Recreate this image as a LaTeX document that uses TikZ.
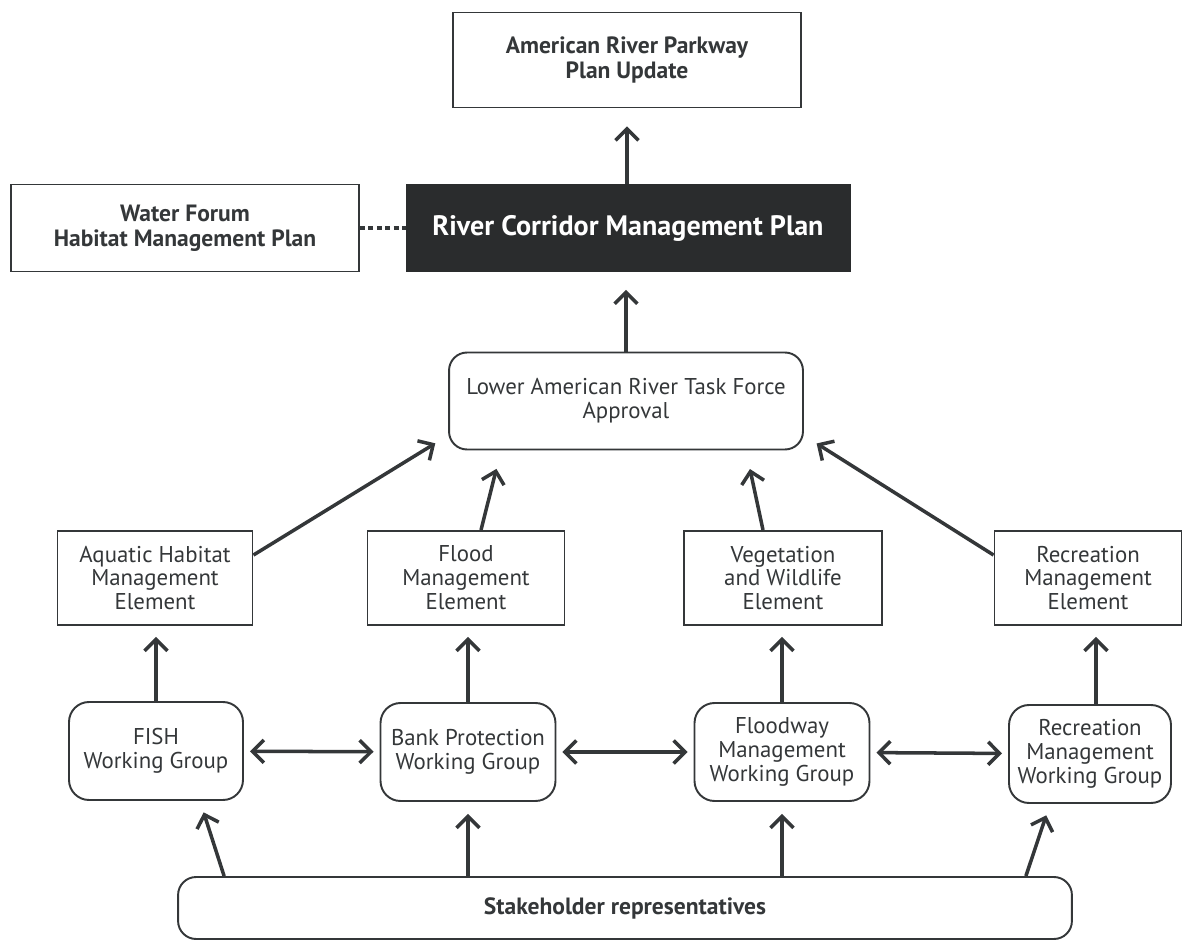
\documentclass[tikz,border=0pt]{standalone}
\usepackage{fontspec}
\setmainfont{PT Sans}
\usetikzlibrary{arrows.meta,positioning}
\definecolor{ink}{HTML}{343739}
\definecolor{corefill}{HTML}{2A2C2D}

\begin{document}
\begin{tikzpicture}[
  x=0.02cm, y=-0.02cm,
  planbox/.style={draw=ink, line width=1.1pt, align=center, text=ink,
                  font=\fontsize{13.4}{14.5}\selectfont\bfseries},
  corebox/.style={draw=corefill, fill=corefill, text=white,
                  minimum width=8.88cm, minimum height=1.74cm,
                  font=\fontsize{16}{18}\selectfont\bfseries},
  elembox/.style={draw=ink, line width=1.1pt, align=center, text=ink,
                  minimum height=1.88cm, font=\fontsize{13}{13.6}\selectfont},
  groupbox/.style={draw=ink, line width=1.1pt, rounded corners=0.4cm, align=center,
                   text=ink, minimum height=1.96cm, font=\fontsize{13}{13.6}\selectfont},
  arr/.style={-{Straight Barb[length=6.5pt,width=13pt]}, line width=2pt, draw=ink},
  dblarr/.style={{Straight Barb[length=6.5pt,width=13pt]}-{Straight Barb[length=6.5pt,width=13pt]},
                 line width=2pt, draw=ink, shorten <=0.12cm, shorten >=0.12cm}
]
\useasboundingbox (0,0) rectangle (1183,942);

% plans
\node[planbox, minimum width=6.96cm, minimum height=1.9cm] (upd) at (627,60)
  {American River Parkway\\Plan Update};
\node[corebox] (rcmp) at (628,228) {River Corridor Management Plan};
\node[planbox, minimum width=6.96cm, minimum height=1.74cm] (wf) at (185,228)
  {Water Forum\\Habitat Management Plan};
\node[groupbox, rounded corners=0.36cm, minimum width=7.08cm, minimum height=1.94cm] (task) at (626,401)
  {Lower American River Task Force\\Approval};

% elements
\node[elembox, minimum width=3.9cm] (aqua) at (155,578) {Aquatic Habitat\\Management\\Element};
\node[elembox, minimum width=3.94cm] (flood) at (466,578) {Flood\\Management\\Element};
\node[elembox, minimum width=3.96cm] (veg) at (783,578) {Vegetation\\and Wildlife\\Element};
\node[elembox, minimum width=3.74cm] (rece) at (1088,578) {Recreation\\Management\\Element};

% working groups
\node[groupbox, minimum width=3.48cm] (fish) at (156,751) {FISH\\Working Group};
\node[groupbox, minimum width=3.5cm] (bank) at (468,752) {Bank Protection\\Working Group};
\node[groupbox, minimum width=3.5cm] (fway) at (782,752) {Floodway\\Management\\Working Group};
\node[groupbox, minimum width=3.24cm] (recg) at (1090,754) {Recreation\\Management\\Working Group};

\node[groupbox, rounded corners=0.36cm, minimum width=17.88cm, minimum height=1.24cm,
      font=\fontsize{13.4}{14}\selectfont\bfseries] (stake) at (625,908) {Stakeholder representatives};

% links
\draw[arr, shorten >=0.36cm] (rcmp.north -| upd) -- (upd.south);
\draw[arr, shorten >=0.36cm] (task.north) -- (task.north |- rcmp.south);
\draw[line width=2.3pt, draw=ink, dash pattern=on 2.8pt off 2pt] (wf.east) -- (rcmp.west);

\draw[arr, shorten >=0.3cm] ([yshift=-0.5cm]aqua.north east) -- ([yshift=0.3cm]task.south west);
\draw[arr, shorten >=0.38cm] ([xshift=0.3cm]flood.north) -- ([xshift=-2.5cm]task.south);
\draw[arr, shorten >=0.38cm] ([xshift=-0.4cm]veg.north) -- ([xshift=2.4cm]task.south);
\draw[arr, shorten >=0.3cm] ([yshift=-0.5cm]rece.north west) -- ([yshift=0.3cm]task.south east);

\draw[arr, shorten >=0.22cm] (fish.north) -- (fish.north |- aqua.south);
\draw[arr, shorten >=0.22cm] (bank.north) -- (bank.north |- flood.south);
\draw[arr, shorten >=0.22cm] (fway.north) -- (fway.north |- veg.south);
\draw[arr, shorten >=0.22cm] ([xshift=0.12cm]recg.north) -- ([xshift=0.12cm]recg.north |- rece.south);

\draw[dblarr] (fish) -- (bank);
\draw[dblarr] (bank) -- (fway);
\draw[dblarr] (fway) -- (recg);

\draw[arr, shorten >=0.24cm] ([xshift=0.94cm]stake.north west) -- ([xshift=-0.88cm]fish.south east);
\draw[arr, shorten >=0.24cm] (stake.north -| bank) -- (bank.south);
\draw[arr, shorten >=0.24cm] (stake.north -| fway) -- (fway.south);
\draw[arr, shorten >=0.24cm] ([xshift=-0.94cm]stake.north east) -- ([xshift=-0.8cm]recg.south);
\end{tikzpicture}
\end{document}
